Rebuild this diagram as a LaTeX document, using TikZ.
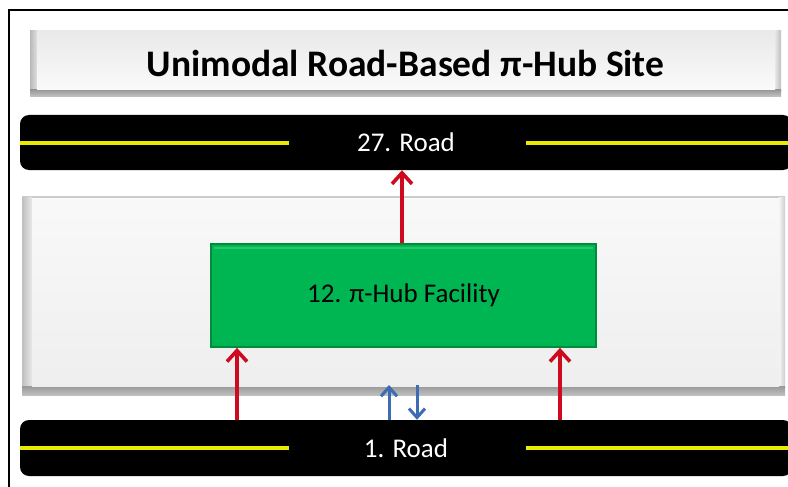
\documentclass[tikz,border=0pt]{standalone}
\usepackage{fontspec}
\setmainfont{Carlito}
\usetikzlibrary{arrows.meta,calc}
\definecolor{roadyellow}{RGB}{235,235,0}
\definecolor{hubgreen}{RGB}{0,182,82}
\definecolor{hubgreendark}{RGB}{0,140,60}
\definecolor{hubgreenlight}{RGB}{40,200,105}
\definecolor{arrowred}{RGB}{205,10,30}
\definecolor{arrowblue}{RGB}{60,108,178}
\tikzset{
  road/.style={fill=black, rounded corners=9pt, minimum width=772pt, inner sep=0pt,
    text=white, font=\fontsize{27}{32}\selectfont},
  yellowline/.style={draw=roadyellow, line width=4pt},
  facility/.style={fill=hubgreen, draw=hubgreendark, line width=1.8pt, minimum width=385pt,
    minimum height=103pt, inner sep=0pt, font=\fontsize{27}{32}\selectfont},
  redarrow/.style={draw=arrowred, line width=3.6pt, -{Straight Barb[length=11pt,width=20pt]}},
  bluearrow/.style={draw=arrowblue, line width=3pt, -{Straight Barb[length=9pt,width=16pt]}},
  titletext/.style={font=\bfseries\fontsize{37.5}{44}\selectfont, anchor=base, inner sep=0pt}
}
\begin{document}
\begin{tikzpicture}[x=1pt,y=-1pt]
\useasboundingbox (0,0) rectangle (788,487);
\fill[white] (0,0) rectangle (788,487);
% frame
\draw[line width=1.5pt] (9,490) -- (9,10) -- (792,10);
% title box (bevel)
\fill[gray!45] (30,30) rectangle (781,97);
\shade[left color=gray!55, right color=gray!25] (30,31) rectangle (37,92);
\shade[left color=gray!20, right color=gray!50] (775,31) rectangle (781,92);
\shade[top color=gray!80, bottom color=gray!45] (30,90) rectangle (781,97);
\shade[top color=gray!17, bottom color=gray!4] (37,31) rectangle (775,90);
\node[titletext] (title) at (405.5,77) {Unimodal Road-Based π-Hub Site};
% site box (bevel)
\fill[gray!40] (22,196) rectangle (785,395);
\shade[left color=gray!50, right color=gray!18] (22,197) rectangle (32,387);
\shade[left color=gray!8, right color=gray!40] (779,197) rectangle (785,387);
\shade[top color=gray!80, bottom color=gray!50] (22,386) rectangle (785,395);
\shade[top color=gray!5, bottom color=gray!13] (32,198) rectangle (779,386);
\coordinate (sitebottom) at (403,385);
% roads
\node[road, minimum height=55pt] (r27) at (406,142.5) {27. Road};
\node[road, minimum height=56pt] (r1) at (406,448) {1. Road};
\draw[yellowline] (r27.west) -- (r27.west -| 289,0);
\draw[yellowline] (r27.east -| 526,0) -- (r27.east);
\draw[yellowline] (r1.west) -- (r1.west -| 289,0);
\draw[yellowline] (r1.east -| 526,0) -- (r1.east);
% facility
\node[facility] (fac) at (403.5,295.5) {12. π-Hub Facility};
\draw[hubgreenlight, line width=1.5pt] ($(fac.north west)+(4,5)$) -- ($(fac.north east)+(-4,5)$);
% arrows
\draw[redarrow] (fac.north -| 402,0) -- (r27.south -| 402,0);
\draw[redarrow] (r1.north -| 237,0) -- (fac.south -| 237,0);
\draw[redarrow] (r1.north -| 560,0) -- (fac.south -| 560,0);
\draw[bluearrow] (r1.north -| 389,0) -- (sitebottom -| 389,0);
\draw[bluearrow] (sitebottom -| 417,0) -- (r1.north -| 417,0);
\end{tikzpicture}
\end{document}
